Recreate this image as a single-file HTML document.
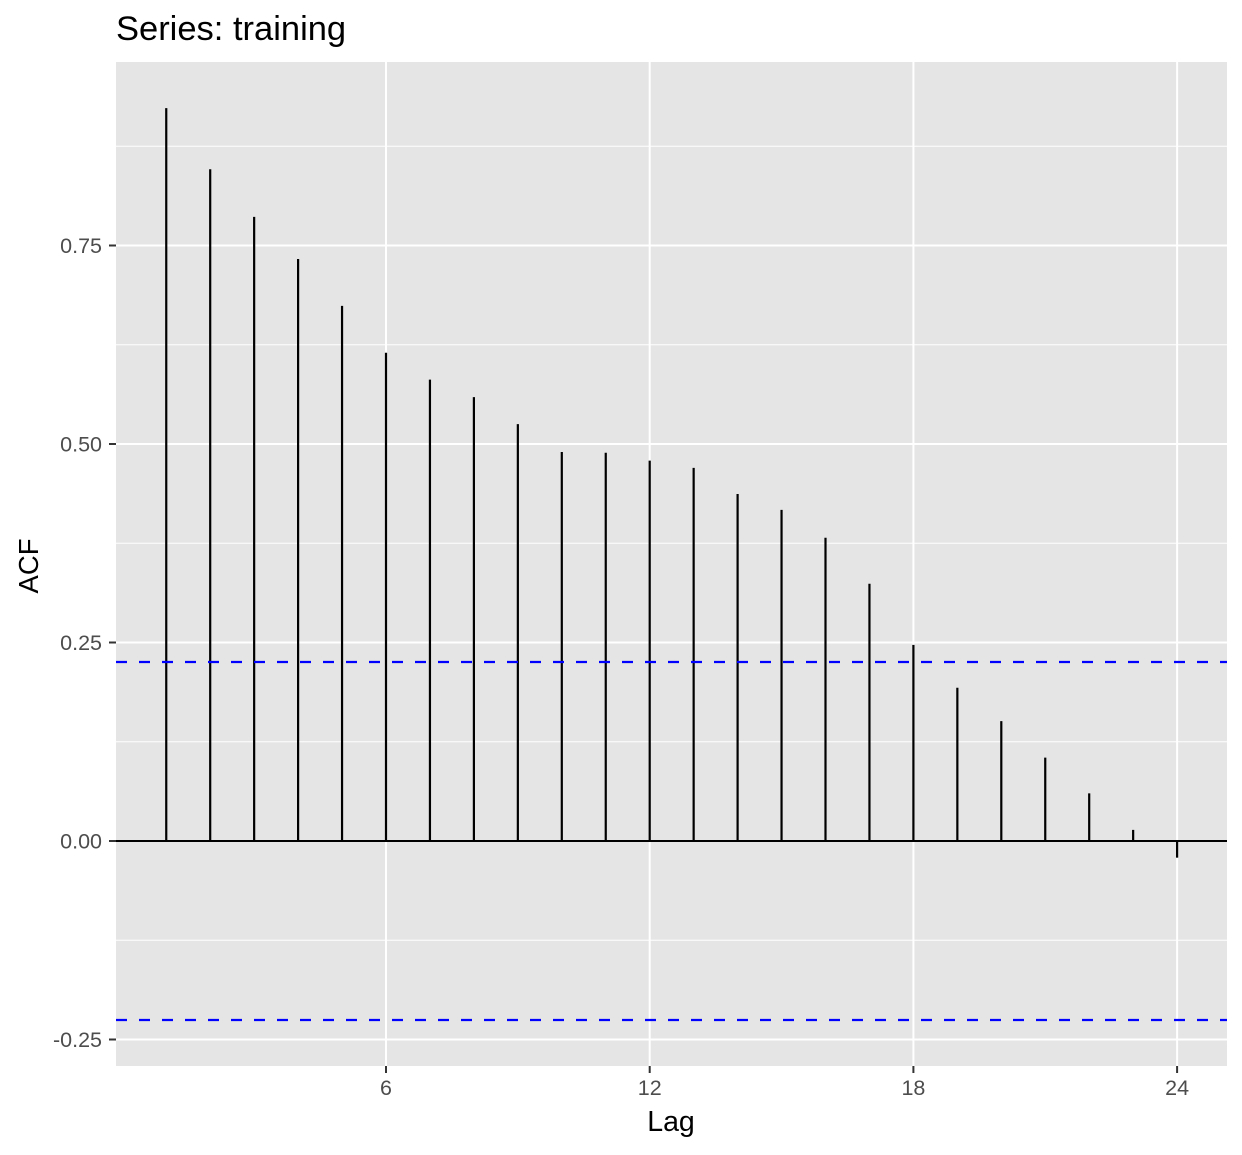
<!DOCTYPE html>
<html><head><meta charset="utf-8"><style>
body{margin:0;background:#fff;}
svg text{font-family:"Liberation Sans",Arial,sans-serif;}
</style></head><body>
<svg id="chart" width="1242" height="1150" xmlns="http://www.w3.org/2000/svg">
<text x="116" y="40" font-size="34.5" fill="#000">Series: training</text>
<rect x="116" y="62" width="1111" height="1004" fill="#e5e5e5"/>
<g id="grid"></g>
<g id="marks"></g>
<g id="axes"></g>
<text x="671" y="1131" font-size="28.5" text-anchor="middle" fill="#000">Lag</text>
<text transform="translate(38,566) rotate(-90)" font-size="27.5" text-anchor="middle" fill="#000">ACF</text>
</svg>
<script>
const lags=[1,2,3,4,5,6,7,8,9,10,11,12,13,14,15,16,17,18,19,20,21,22,23,24];
const acfValues=[0.923,0.846,0.786,0.733,0.674,0.615,0.581,0.559,0.525,0.490,0.489,0.479,0.470,0.437,0.417,0.382,0.324,0.247,0.193,0.151,0.105,0.060,0.014,-0.021];
const ciBound=0.2254;
const yTicks=[-0.25,0,0.25,0.5,0.75];
const yTickLabels=["-0.25","0.00","0.25","0.50","0.75"];
const yMinor=[-0.125,0.125,0.375,0.625,0.875];
const xTicks=[6,12,18,24];
const NS="http://www.w3.org/2000/svg";
function X(l){return 386+(l-6)*43.95;}
function Y(v){return 841-v*794;}
function el(tag,attrs,parent){const e=document.createElementNS(NS,tag);for(const k in attrs)e.setAttribute(k,attrs[k]);parent.appendChild(e);return e;}
const grid=document.getElementById('grid'),marks=document.getElementById('marks'),axes=document.getElementById('axes');
yMinor.forEach(v=>{const e=el('line',{x1:116,x2:1227,y1:Y(v),y2:Y(v),stroke:'#fff','stroke-width':1},grid);

});
yTicks.forEach((v,i)=>{const e=el('line',{x1:116,x2:1227,y1:Y(v),y2:Y(v),stroke:'#fff','stroke-width':2},grid);


const t=el('line',{x1:109,x2:116,y1:Y(v),y2:Y(v),stroke:'#333','stroke-width':2},axes);


const l=el('text',{x:102,y:Y(v)+7.5,'font-size':21.5,'text-anchor':'end',fill:'#4d4d4d'},axes);l.textContent=yTickLabels[i];

});
xTicks.forEach(v=>{const e=el('line',{x1:X(v),x2:X(v),y1:62,y2:1066,stroke:'#fff','stroke-width':2},grid);


const t=el('line',{x1:X(v),x2:X(v),y1:1066,y2:1073,stroke:'#333','stroke-width':2},axes);


const l=el('text',{x:X(v),y:1095,'font-size':21.5,'text-anchor':'middle',fill:'#4d4d4d'},axes);l.textContent=v;

});
const z=el('line',{x1:116,x2:1227,y1:Y(0),y2:Y(0),stroke:'#000','stroke-width':2},marks);


lags.forEach((l,i)=>{const e=el('line',{x1:X(l),x2:X(l),y1:Y(0),y2:Y(acfValues[i]),stroke:'#000','stroke-width':2.2},marks);

});
[ciBound,-ciBound].forEach((v,i)=>{const e=el('line',{x1:116,x2:1227,y1:Y(v),y2:Y(v),stroke:'#0000ff','stroke-width':2.2,'stroke-dasharray':'11 12'},marks);

});
</script>
</body></html>
